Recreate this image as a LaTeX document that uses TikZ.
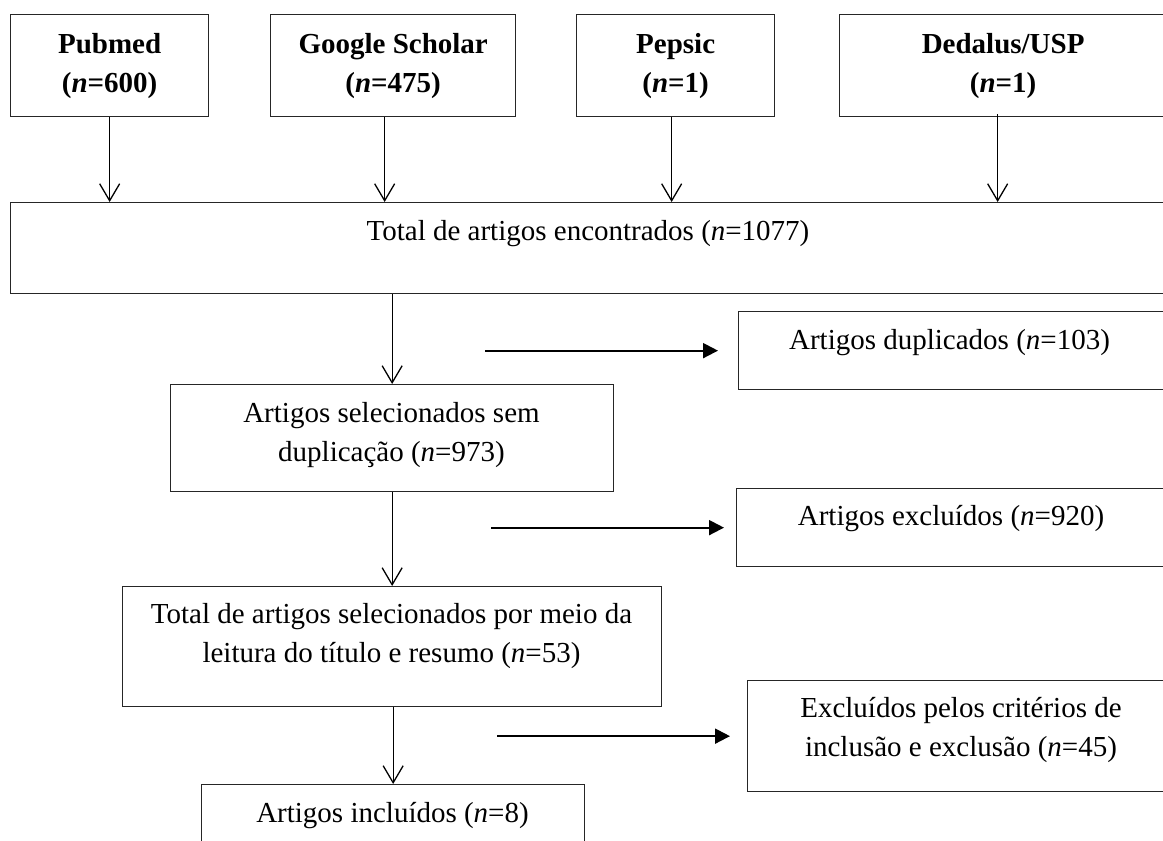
\documentclass[tikz,border=0pt]{standalone}
\usepackage{fontspec}
\setmainfont{Liberation Serif}
\usetikzlibrary{arrows.meta}
\newcommand\boxfont{\fontsize{29}{39}\selectfont}
\tikzset{
  box/.style 2 args={draw=black!85,line width=1.3pt,minimum width=#1,minimum height=#2,
    inner sep=0pt,anchor=north west,align=center,font=\boxfont},
  src/.style={font=\boxfont\bfseries},
  txt/.style={inner sep=0pt,align=center,font=\boxfont},
  down/.style={-{Straight Barb[length=17pt,width=20pt]},line width=1.3pt},
  side/.style={-{Triangle[length=15pt,width=15pt]},line width=2pt}
}
\begin{document}
\begin{tikzpicture}[x=1pt,y=-1pt]
  \useasboundingbox (0,0) rectangle (1163,841);
  \clip (0,0) rectangle (1163,841);
  \node[box={198}{102},src] (pubmed) at (10,14) {Pubmed\\(\textit{n}=600)};
  \node[box={245}{102},src] (google) at (270,14) {Google Scholar\\(\textit{n}=475)};
  \node[box={198}{102},src] (pepsic) at (576,14) {Pepsic\\(\textit{n}=1)};
  \node[box={327}{102},src] (dedalus) at (839,14) {Dedalus/USP\\(\textit{n}=1)};
  \node[box={1156}{91}] (total) at (10,202) {};
  \node[box={443}{107}] (semdup) at (170,384) {};
  \node[box={539}{120}] (totalsel) at (122,586) {};
  \node[box={383}{100}] (incl) at (201,784) {};
  \node[box={428}{78}] (dup) at (738,311) {};
  \node[box={430}{78}] (excl) at (736,488) {};
  \node[box={419}{111}] (crit) at (747,680) {};
  \node[txt,anchor=base] (totaltxt) at (588,240) {Total de artigos encontrados (\textit{n}=1077)};
  \node[txt,anchor=north] (semduptxt) at (391.5,402) {Artigos selecionados sem\\duplicação (\textit{n}=973)};
  \node[txt,anchor=north] (totalseltxt) at (391.5,603) {Total de artigos selecionados por meio da\\leitura do título e resumo (\textit{n}=53)};
  \node[txt,anchor=base] (incltxt) at (392.5,822) {Artigos incluídos (\textit{n}=8)};
  \node[txt,anchor=base] (duptxt) at (949.5,349) {Artigos duplicados (\textit{n}=103)};
  \node[txt,anchor=base] (excltxt) at (951,525) {Artigos excluídos (\textit{n}=920)};
  \node[txt,anchor=north] (crittxt) at (961,697) {Excluídos pelos critérios de\\inclusão e exclusão (\textit{n}=45)};
  \draw[down] (pubmed.south) -- (pubmed.south |- total.north);
  \draw[down] ([xshift=-8.5pt]google.south) -- ([xshift=-8.5pt]google.south |- total.north);
  \draw[down] ([xshift=-4pt]pepsic.south) -- ([xshift=-4pt]pepsic.south |- total.north);
  \draw[down] ([xshift=-5.5pt,yshift=3pt]dedalus.south) -- ([xshift=-5.5pt]dedalus.south |- total.north);
  \draw[down] (semdup.north |- total.south) -- (semdup.north);
  \draw[down] (totalsel.north |- semdup.south) -- (totalsel.north);
  \draw[down] (incl.north |- totalsel.south) -- (incl.north);
  \draw[side] ([xshift=-253pt]dup.west) -- ([xshift=-20pt]dup.west);
  \draw[side] ([xshift=-245pt]excl.west) -- ([xshift=-12pt]excl.west);
  \draw[side] ([xshift=-250pt]crit.west) -- ([xshift=-17pt]crit.west);
\end{tikzpicture}
\end{document}
